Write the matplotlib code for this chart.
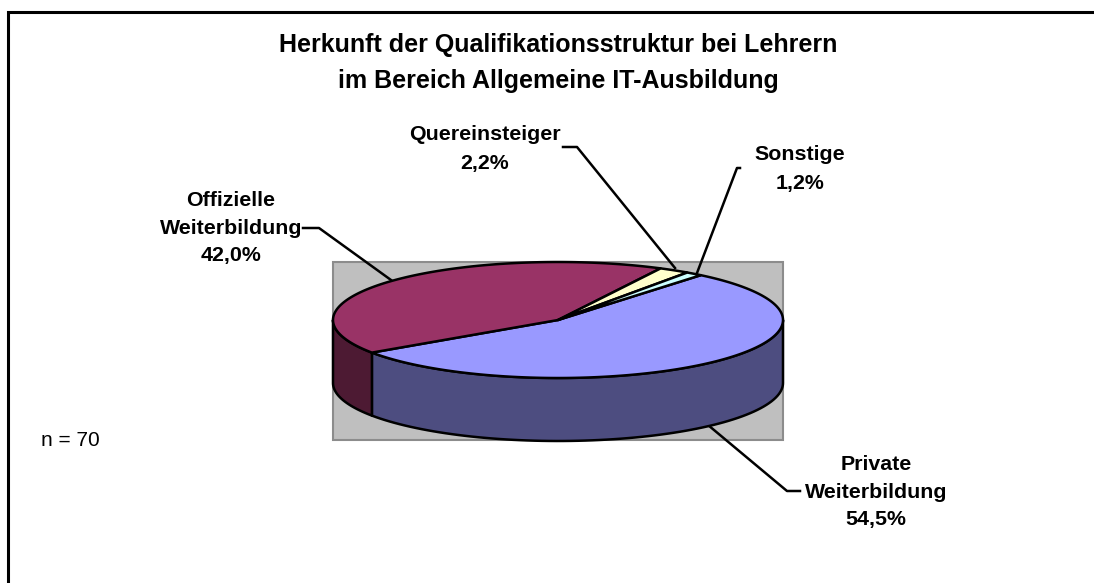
import matplotlib
matplotlib.use("Agg")
import matplotlib.pyplot as plt
import numpy as np

categories = ["Private\nWeiterbildung", "Offizielle\nWeiterbildung", "Quereinsteiger", "Sonstige"]
values = [54.5, 42.0, 2.2, 1.2]
n_label = "n = 70"
title = "Herkunft der Qualifikationsstruktur bei Lehrern\nim Bereich Allgemeine IT-Ausbildung"

top_colors = ["#9999FF", "#993366", "#FFFFCC", "#CCFFFF"]
side_colors = ["#4D4D80", "#4D1A33", "#808066", "#668080"]

# pie geometry in image pixels
cx, cy = 558, 320
rx, ry = 225, 58
depth = 63
start_angle = 50.6

plt.rcParams["font.family"] = ["Liberation Sans", "DejaVu Sans"]

fig = plt.figure(figsize=(10.94, 5.83), dpi=100)
ax = fig.add_axes([0, 0, 1, 1])
ax.set_xlim(0, 1094)
ax.set_ylim(583, 0)
ax.axis("off")

# chart frame, runs off the right and bottom edge
ax.plot([7.5, 7.5, 1094], [583, 11.5, 11.5], color="black", lw=2.2, solid_joinstyle="miter")

# grey plot area
ax.add_patch(plt.Rectangle((333, 262), 450, 178, facecolor="#BFBFBF", edgecolor="#8C8C8C", lw=1.5, zorder=1))


def ell(t):
    t = np.radians(t)
    return cx + rx * np.cos(t), cy - ry * np.sin(t)


# slices run clockwise from start_angle
shares = np.array(values) / sum(values) * 360
ends = start_angle - np.cumsum(shares)
starts = ends + shares

# side walls, only the front half (180..360) shows
for a0, a1, col in zip(starts, ends, side_colors):
    for shift in (0, 360, -360):
        lo = max(a1 + shift, -180)
        hi = min(a0 + shift, 0)
        if hi <= lo:
            continue
        t = np.linspace(lo, hi, 80)
        x, y = ell(t)
        xs = np.r_[x, x[::-1]]
        ys = np.r_[y, y[::-1] + depth]
        ax.fill(xs, ys, facecolor=col, edgecolor="black", lw=1.8, joinstyle="round", zorder=2)

# top face
for a0, a1, col in zip(starts, ends, top_colors):
    t = np.linspace(a1, a0, 200)
    x, y = ell(t)
    ax.fill(np.r_[cx, x], np.r_[cy, y], facecolor=col, edgecolor="black", lw=1.8, joinstyle="round", zorder=3)

# leader lines
leaders = [
    ([708, 787, 800], [425, 491, 491]),
    ([303, 319, 391], [228, 228, 280]),
    ([563, 577, 675], [147, 147, 268]),
    ([740, 737, 697], [168, 168, 273]),
]
for lx, ly in leaders:
    ax.plot(lx, ly, color="black", lw=1.8, zorder=1.5)

# value labels
label_pos = [(876, 492), (231, 228), (485, 149), (800, 169)]
for cat, val, (lx, ly) in zip(categories, values, label_pos):
    txt = cat + "\n" + f"{val:.1f}%".replace(".", ",")
    ax.text(lx, ly, txt, ha="center", va="center", fontsize=15.4, fontweight="bold",
            linespacing=1.6, color="black", zorder=5)

ax.text(558, 63, title, ha="center", va="center", fontsize=18, fontweight="bold", linespacing=1.6)
ax.text(41, 441, n_label, ha="left", va="center", fontsize=15)

fig.savefig("out.png", dpi=100)
